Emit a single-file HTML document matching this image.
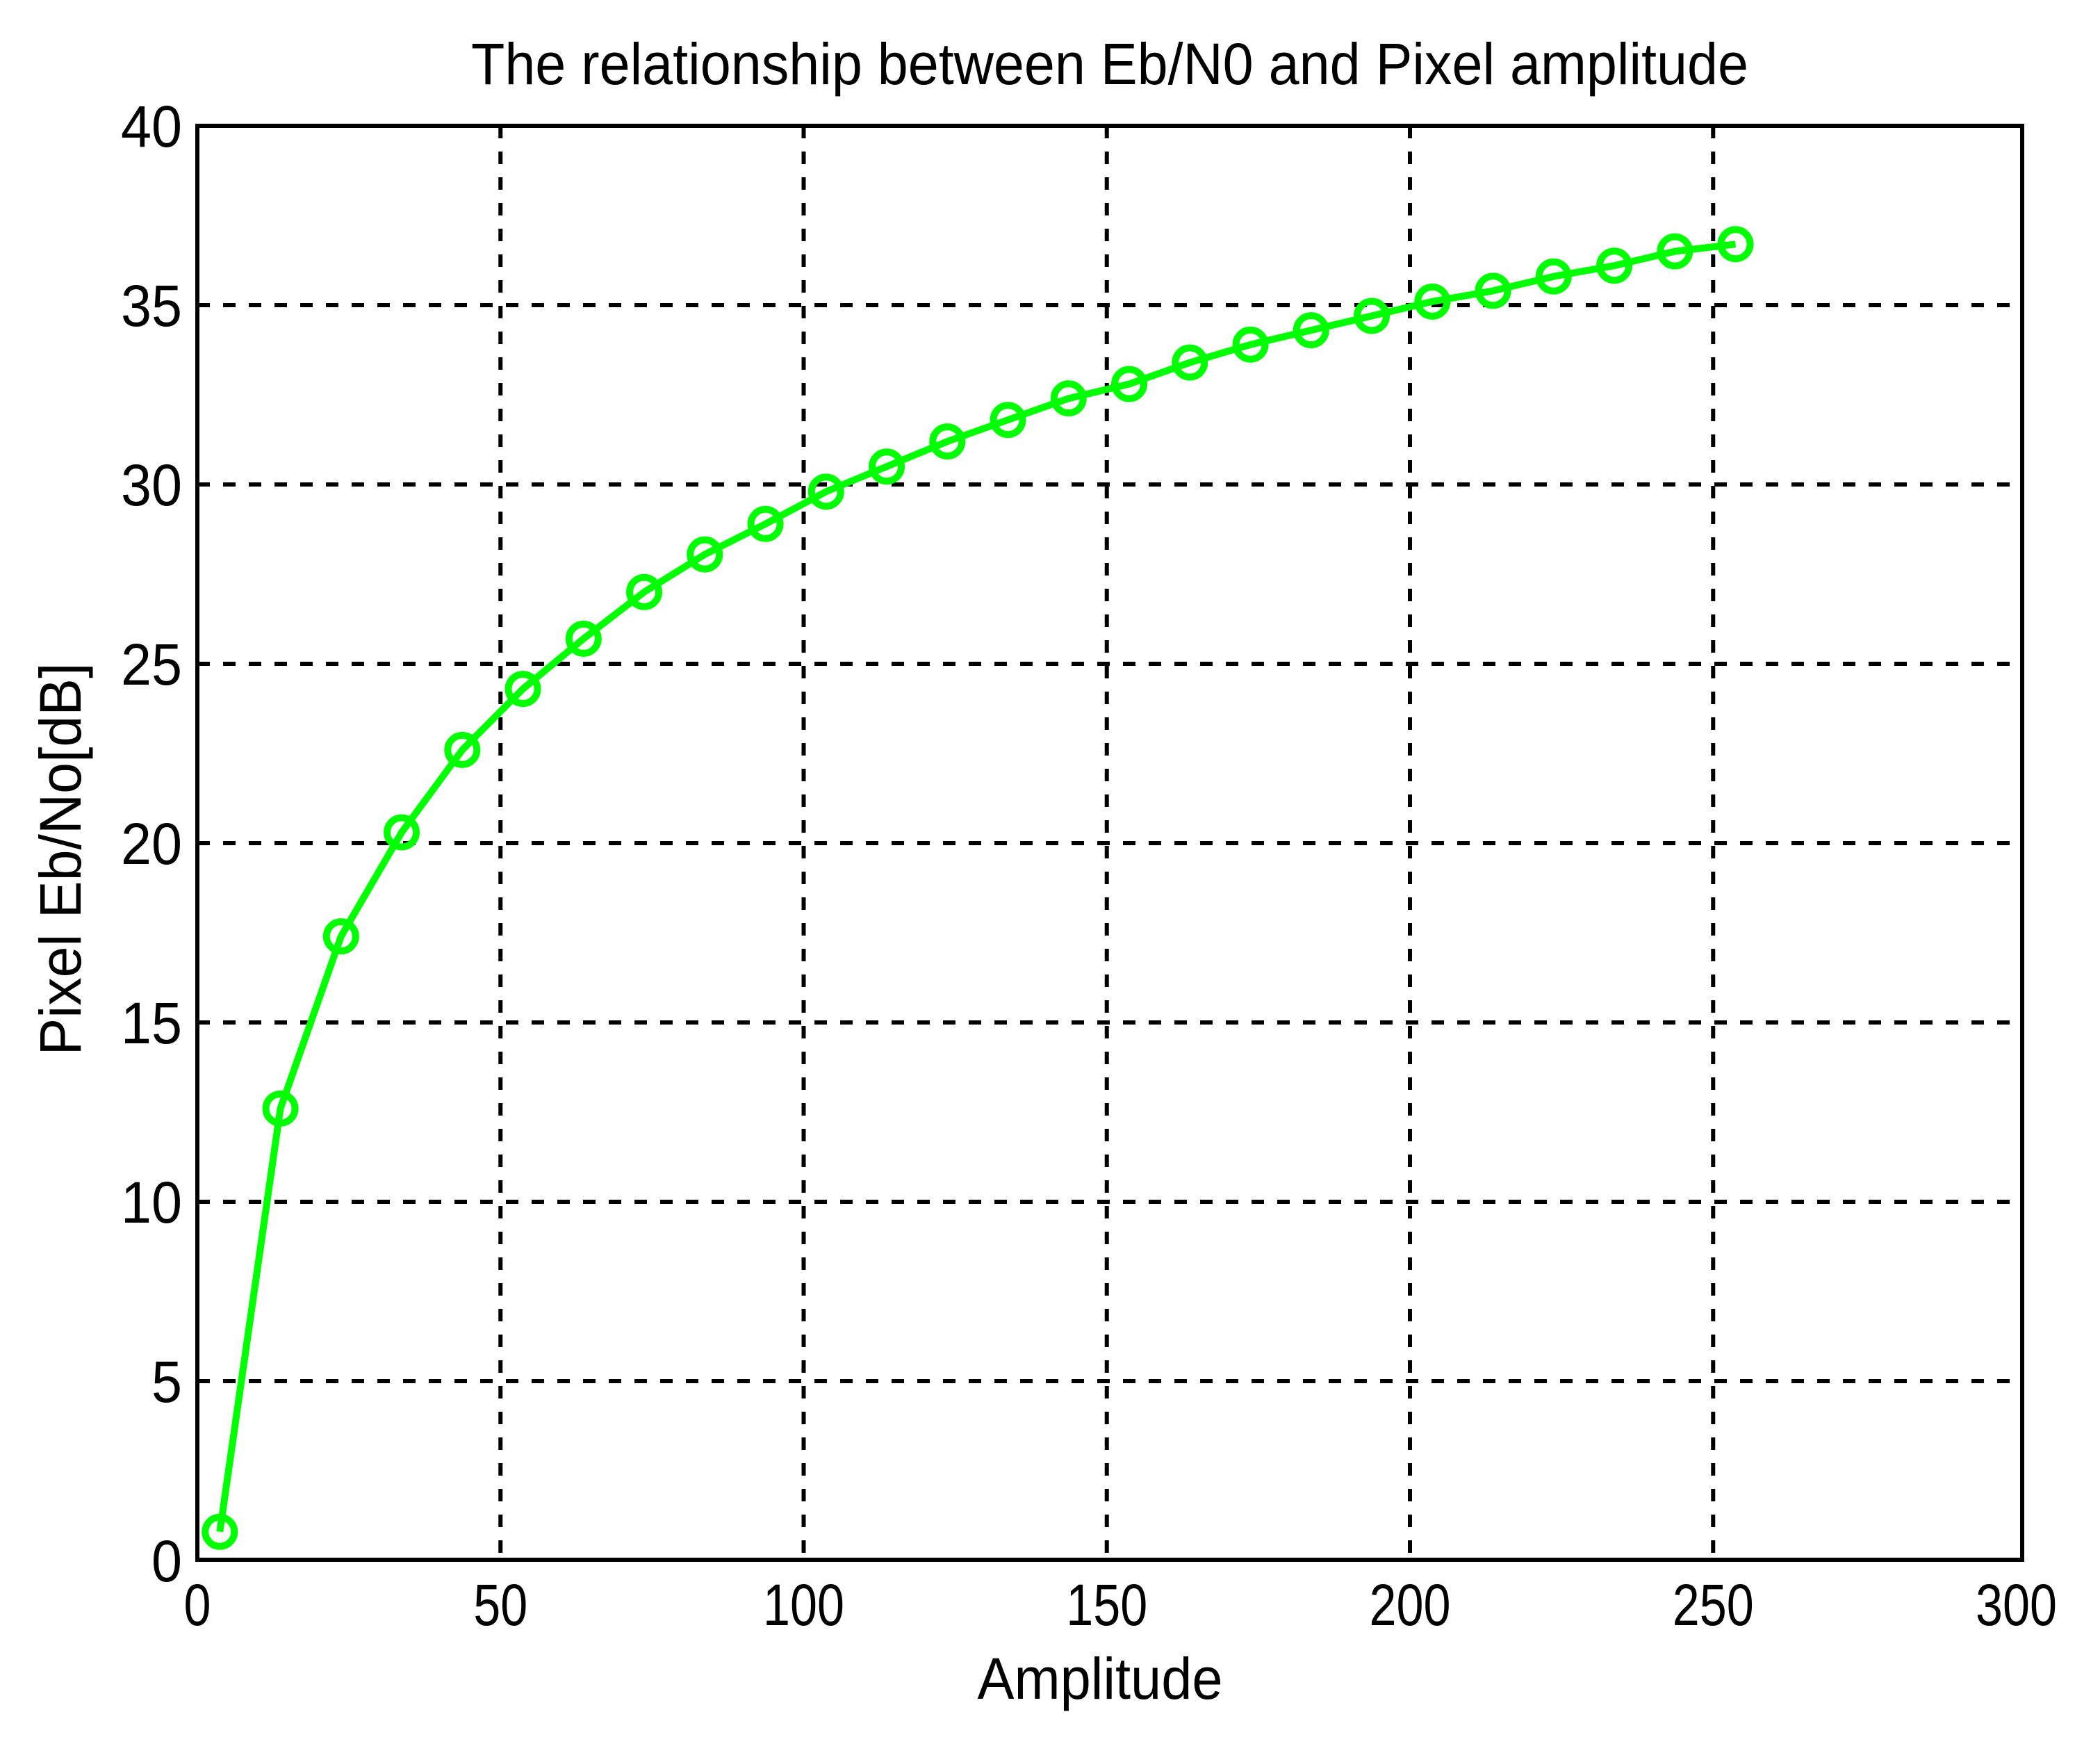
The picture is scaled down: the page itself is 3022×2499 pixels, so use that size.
<!DOCTYPE html>
<html>
<head>
<meta charset="utf-8">
<style>
html,body{margin:0;padding:0;background:#fff;}
svg{display:block;}
text{font-family:"Liberation Sans",sans-serif;fill:#000;}
</style>
</head>
<body>
<svg id="chart" width="3022" height="2499" viewBox="0 0 3022 2499" xmlns="http://www.w3.org/2000/svg">
  <rect x="0" y="0" width="3022" height="2499" fill="#fff"/>
  <text x="1597" y="121" font-size="84" text-anchor="middle" textLength="1838" lengthAdjust="spacingAndGlyphs">The relationship between Eb/N0 and Pixel amplitude</text>
  <g id="grid"></g>
  <g id="series"></g>
  <rect x="284" y="181" width="2626" height="2063" fill="none" stroke="#000" stroke-width="6"/>
  <g id="xticks"></g>
  <g id="yticks"></g>
  <text x="1583" y="2444" font-size="84" text-anchor="middle" textLength="353" lengthAdjust="spacingAndGlyphs">Amplitude</text>
  <text transform="translate(116,1236) rotate(-90)" x="0" y="0" font-size="84" text-anchor="middle" textLength="565" lengthAdjust="spacingAndGlyphs">Pixel Eb/No[dB]</text>
</svg>
<script>
const amplitudes = [3.7,13.7,23.7,33.7,43.7,53.7,63.7,73.7,83.7,93.7,103.7,113.7,123.7,133.7,143.7,153.7,163.7,173.7,183.7,193.7,203.7,213.7,223.7,233.7,243.7,253.7];
const ebnoValues = [0.8,12.6,17.4,20.3,22.6,24.3,25.7,27.0,28.05,28.9,29.8,30.5,31.2,31.8,32.4,32.8,33.4,33.9,34.3,34.7,35.1,35.4,35.8,36.1,36.5,36.7];
const xTickValues = [0,50,100,150,200,250,300];
const xTickLabels = ["0","50","100","150","200","250","300"];
const yTickValues = [0,5,10,15,20,25,30,35,40];
const yTickLabels = ["0","5","10","15","20","25","30","35","40"];

const NS = "http://www.w3.org/2000/svg";
const X0 = 284, XS = 8.725, Y0 = 2245, YS = 51.6;
const PL = 284, PR = 2910, PT = 181, PB = 2244;
function xPos(v){ return X0 + v*XS; }
function yPos(v){ return Y0 - v*YS; }
function mk(tag, attrs, parent){
  const e = document.createElementNS(NS, tag);
  for (const k in attrs) e.setAttribute(k, attrs[k]);
  parent.appendChild(e);
  return e;
}
const grid = document.getElementById('grid');
const xt = document.getElementById('xticks');
const yt = document.getElementById('yticks');
const ser = document.getElementById('series');

xTickValues.forEach((v,i)=>{
  const x = xPos(v);
  if (v > 0 && v < 300) {
    const g = mk('line', {x1:x, y1:PT, x2:x, y2:PB, stroke:'#000', 'stroke-width':6, 'stroke-dasharray':'18 19'}, grid);
    
    
  }
  const t = mk('text', {x:x, y:2338, 'font-size':84, 'text-anchor':'middle', textLength: 39*xTickLabels[i].length, lengthAdjust:'spacingAndGlyphs'}, xt);
  t.textContent = xTickLabels[i];
  
  
});
yTickValues.forEach((v,i)=>{
  const y = yPos(v);
  if (v > 0 && v < 40) {
    const g = mk('line', {x1:PL, y1:y, x2:PR, y2:y, stroke:'#000', 'stroke-width':6, 'stroke-dasharray':'18 19'}, grid);
    
    
  }
  const t = mk('text', {x:262, y:y+30, 'font-size':84, 'text-anchor':'end', textLength: 44*yTickLabels[i].length, lengthAdjust:'spacingAndGlyphs'}, yt);
  t.textContent = yTickLabels[i];
  
  
});

const pts = amplitudes.map((a,i)=> xPos(a).toFixed(1) + ',' + yPos(ebnoValues[i]).toFixed(1)).join(' ');
const line = mk('polyline', {points:pts, fill:'none', stroke:'#00ff00', 'stroke-width':10, 'stroke-linejoin':'round'}, ser);


amplitudes.forEach((a,i)=>{
  const c = mk('circle', {cx:xPos(a), cy:yPos(ebnoValues[i]), r:21, fill:'none', stroke:'#00ff00', 'stroke-width':10}, ser);
  
  
});
</script>
</body>
</html>
